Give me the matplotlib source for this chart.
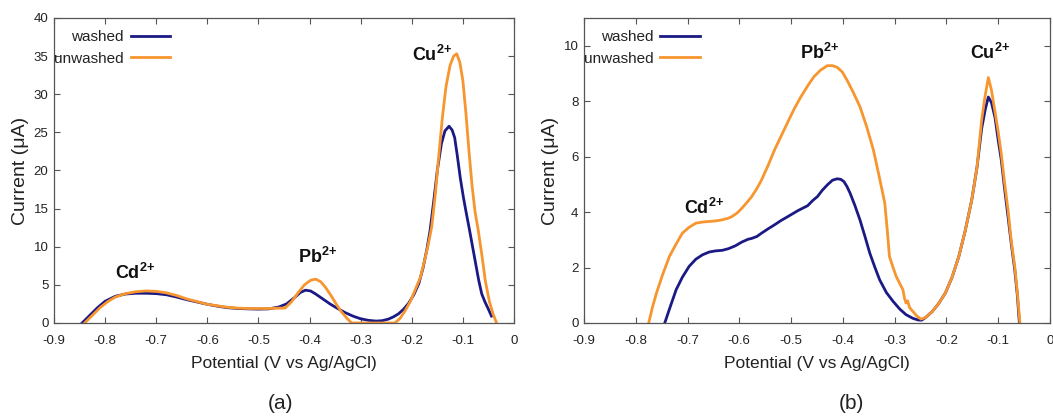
import numpy as np
import matplotlib
matplotlib.use('Agg')
import matplotlib.pyplot as plt

plt.rcParams['font.family'] = ['Liberation Sans', 'DejaVu Sans']
plt.rcParams['mathtext.fontset'] = 'custom'
plt.rcParams['mathtext.rm'] = 'Liberation Sans'
plt.rcParams['mathtext.bf'] = 'Liberation Sans:bold'

# panel (a) data
a_washed_x = [-0.845, -0.830, -0.815, -0.800, -0.780, -0.760, -0.740, -0.720, -0.700, -0.680,
              -0.660, -0.640, -0.620, -0.600, -0.580, -0.560, -0.540, -0.520, -0.500, -0.480,
              -0.460, -0.445, -0.430, -0.418, -0.408, -0.398, -0.388, -0.375, -0.360, -0.345,
              -0.330, -0.315, -0.300, -0.285, -0.270, -0.258, -0.246, -0.236, -0.226, -0.216,
              -0.206, -0.196, -0.186, -0.178, -0.170, -0.164, -0.157, -0.150, -0.142, -0.135,
              -0.127, -0.121, -0.116, -0.111, -0.105, -0.099, -0.093, -0.087, -0.081, -0.075,
              -0.069, -0.063, -0.057, -0.050, -0.044]
a_washed_y = [0.0, 1.0, 2.0, 2.85, 3.5, 3.8, 3.9, 3.9, 3.85, 3.7,
              3.4, 3.05, 2.75, 2.45, 2.2, 2.0, 1.9, 1.85, 1.82, 1.85,
              2.1, 2.5, 3.3, 4.0, 4.3, 4.2, 3.8, 3.2, 2.5, 1.9,
              1.35, 0.9, 0.55, 0.35, 0.25, 0.3, 0.5, 0.8, 1.2, 1.8,
              2.6, 3.7, 5.2, 7.2, 9.8, 12.2, 16.0, 20.0, 23.5, 25.2,
              25.8, 25.3, 24.3, 22.0, 19.0, 16.5, 14.3, 12.2, 10.0, 7.8,
              5.6, 3.8, 2.8, 1.8, 0.9]

a_unwashed_x = [-0.840, -0.825, -0.810, -0.795, -0.780, -0.760, -0.740, -0.720, -0.700, -0.680,
                -0.660, -0.640, -0.620, -0.600, -0.580, -0.560, -0.540, -0.520, -0.500, -0.480,
                -0.460, -0.448, -0.435, -0.422, -0.410, -0.398, -0.388, -0.378, -0.368, -0.358,
                -0.348, -0.338, -0.328, -0.318, -0.233, -0.223, -0.213, -0.203, -0.193, -0.183,
                -0.175, -0.168, -0.161, -0.154, -0.147, -0.140, -0.133, -0.125, -0.118, -0.112,
                -0.106, -0.100, -0.094, -0.088, -0.082, -0.076, -0.070, -0.063, -0.056, -0.048,
                -0.041, -0.034]
a_unwashed_y = [0.0, 1.0, 2.0, 2.8, 3.4, 3.85, 4.1, 4.2, 4.15, 3.95,
                3.6, 3.15, 2.8, 2.45, 2.25, 2.05, 1.95, 1.9, 1.9, 1.9,
                1.95, 1.95, 2.8, 4.0, 5.0, 5.6, 5.75, 5.4, 4.6, 3.6,
                2.5, 1.5, 0.7, 0.0, 0.0, 0.6, 1.6, 2.8, 4.4, 6.0,
                8.2, 10.2, 12.6, 16.8, 22.0, 27.0, 31.0, 33.8, 35.0, 35.3,
                34.2, 31.8, 27.5, 22.5, 18.0, 14.5, 12.2, 9.0, 5.5, 2.8,
                1.2, 0.0]

# panel (b)
b_washed_x = [-0.744, -0.735, -0.722, -0.710, -0.697, -0.684, -0.671, -0.658, -0.646, -0.633,
              -0.621, -0.608, -0.595, -0.583, -0.576, -0.566, -0.557, -0.544, -0.532, -0.519,
              -0.506, -0.487, -0.468, -0.458, -0.449, -0.440, -0.430, -0.420, -0.411, -0.404,
              -0.398, -0.392, -0.386, -0.377, -0.367, -0.357, -0.348, -0.338, -0.329, -0.316,
              -0.303, -0.290, -0.278, -0.265, -0.255, -0.248, -0.240, -0.227, -0.215, -0.202,
              -0.189, -0.176, -0.164, -0.151, -0.141, -0.132, -0.125, -0.119, -0.113, -0.106,
              -0.100, -0.094, -0.088, -0.081, -0.075, -0.068, -0.063, -0.059]
b_washed_y = [0.0, 0.5, 1.2, 1.65, 2.04, 2.3, 2.46, 2.56, 2.6, 2.62,
              2.68, 2.78, 2.92, 3.02, 3.05, 3.12, 3.24, 3.4, 3.54, 3.7,
              3.84, 4.05, 4.23, 4.42, 4.56, 4.78, 4.98, 5.15, 5.2, 5.18,
              5.1, 4.92, 4.68, 4.25, 3.72, 3.1, 2.52, 2.0, 1.56, 1.1,
              0.78, 0.5, 0.3, 0.17, 0.11, 0.1, 0.2, 0.42, 0.7, 1.08,
              1.65, 2.4, 3.3, 4.44, 5.6, 7.0, 7.7, 8.15, 7.95, 7.4,
              6.6, 5.88, 4.9, 3.84, 2.9, 1.92, 1.0, 0.0]

b_unwashed_x = [-0.775, -0.768, -0.760, -0.748, -0.735, -0.722, -0.710, -0.697, -0.684, -0.671,
                -0.659, -0.646, -0.633, -0.621, -0.614, -0.604, -0.595, -0.586, -0.576, -0.566,
                -0.557, -0.544, -0.532, -0.519, -0.506, -0.494, -0.481, -0.468, -0.456, -0.443,
                -0.430, -0.420, -0.411, -0.401, -0.392, -0.380, -0.367, -0.354, -0.341, -0.330,
                -0.319, -0.314, -0.310, -0.303, -0.297, -0.290, -0.284, -0.281, -0.278, -0.275,
                -0.271, -0.265, -0.257, -0.249, -0.240, -0.227, -0.215, -0.202, -0.189, -0.176,
                -0.164, -0.151, -0.141, -0.132, -0.126, -0.119, -0.113, -0.106, -0.100, -0.094,
                -0.088, -0.081, -0.075, -0.068, -0.063, -0.058]
b_unwashed_y = [0.0, 0.55, 1.08, 1.75, 2.4, 2.85, 3.24, 3.45, 3.6, 3.64,
                3.66, 3.68, 3.72, 3.78, 3.84, 3.97, 4.14, 4.33, 4.56, 4.85,
                5.16, 5.7, 6.24, 6.75, 7.26, 7.72, 8.16, 8.55, 8.88, 9.12,
                9.28, 9.28, 9.22, 9.05, 8.76, 8.32, 7.8, 7.08, 6.24, 5.3,
                4.32, 3.3, 2.4, 2.0, 1.68, 1.42, 1.2, 0.9, 0.72, 0.8,
                0.55, 0.42, 0.25, 0.14, 0.2, 0.42, 0.7, 1.08, 1.65, 2.4,
                3.3, 4.44, 5.6, 7.3, 8.1, 8.85, 8.4, 7.6, 6.9, 6.1,
                5.1, 4.08, 3.0, 2.04, 1.1, 0.0]

a_labels = [('Cd', -0.741, 6.6), ('Pb', -0.385, 8.7), ('Cu', -0.161, 35.1)]
b_labels = [('Cd', -0.668, 4.15), ('Pb', -0.445, 9.75), ('Cu', -0.115, 9.75)]

navy = '#1b1a85'
orange = '#f7952f'
grey = '#555555'
textc = '#222222'

fig = plt.figure(figsize=(10.53, 4.16), dpi=100)
ax1 = fig.add_axes([0.0513, 0.2236, 0.4368, 0.7332])
ax2 = fig.add_axes([0.5546, 0.2236, 0.4425, 0.7332])


def style(ax, ymax, ystep):
    ax.set_xlim(-0.9, 0)
    ax.set_ylim(0, ymax)
    ax.set_xticks(np.arange(-0.9, 0.01, 0.1))
    ax.set_xticklabels(['-0.9', '-0.8', '-0.7', '-0.6', '-0.5', '-0.4', '-0.3', '-0.2', '-0.1', '0'])
    ax.set_yticks(np.arange(0, ymax + 0.01, ystep))
    ax.tick_params(direction='in', length=4, width=0.8, color=grey, top=True, right=True,
                   labelsize=9.5, labelcolor=textc)
    ax.tick_params(axis='x', pad=9)
    ax.tick_params(axis='y', pad=4)
    for s in ax.spines.values():
        s.set_color(grey)
        s.set_linewidth(0.9)
    ax.set_xlabel('Potential (V vs Ag/AgCl)', fontsize=12.5, color=textc, labelpad=6)
    ax.set_ylabel('Current (μA)', fontsize=14, color=textc, labelpad=3)


for ax, wx, wy, ux, uy, labels, ymax, ystep in [
        (ax1, a_washed_x, a_washed_y, a_unwashed_x, a_unwashed_y, a_labels, 40, 5),
        (ax2, b_washed_x, b_washed_y, b_unwashed_x, b_unwashed_y, b_labels, 11, 2)]:
    ax.plot(wx, wy, color=navy, lw=2.0, label='washed')
    ax.plot(ux, uy, color=orange, lw=2.0, label='unwashed')
    style(ax, ymax, ystep)
    ax.legend(loc='upper left', bbox_to_anchor=(0.0, 0.96), markerfirst=False, frameon=False,
              fontsize=11, handlelength=2.6, handletextpad=0.45, labelspacing=0.48,
              borderpad=0, borderaxespad=0, labelcolor=textc)
    for name, x, y in labels:
        ax.text(x, y, r'$\mathbf{%s^{2{+}}}$' % name, fontsize=13, ha='center', va='center',
                color='#111111')

fig.text(0.266, 0.031, '(a)', fontsize=15, ha='center', va='center', color=textc)
fig.text(0.809, 0.031, '(b)', fontsize=15, ha='center', va='center', color=textc)

fig.savefig('out.png', dpi=100)
